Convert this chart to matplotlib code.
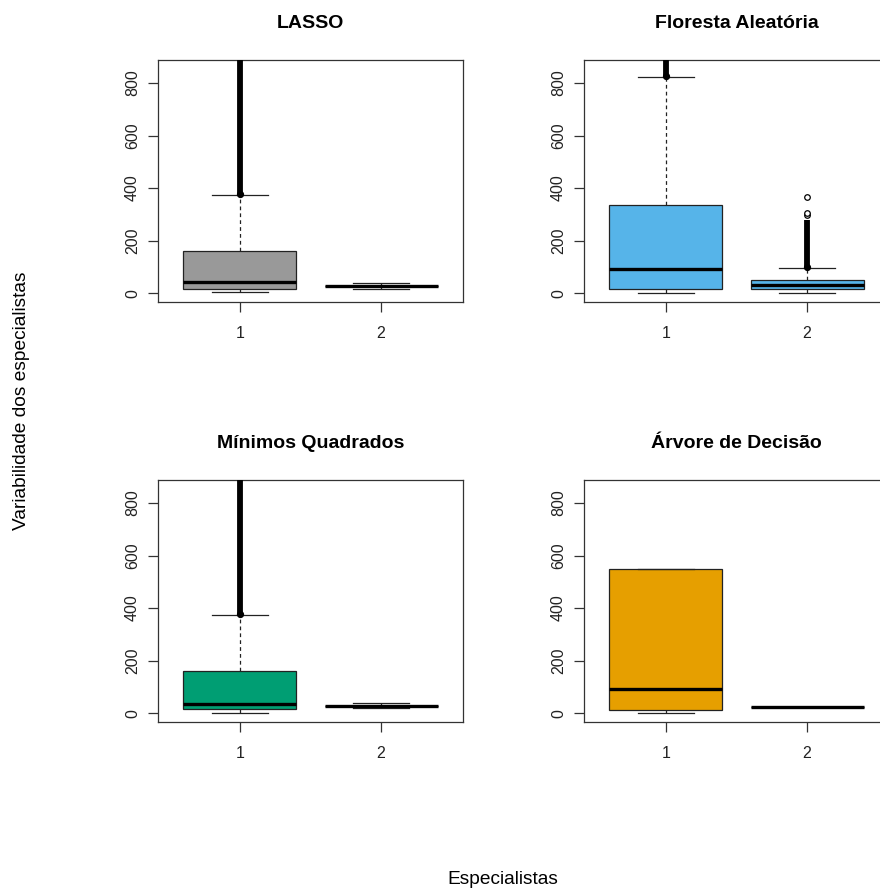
import matplotlib
matplotlib.use("Agg")
import matplotlib.pyplot as plt

plt.rcParams['font.family'] = ['Liberation Sans', 'DejaVu Sans']

# ---- data ----
titles = ["LASSO", "Floresta Aleatória", "Mínimos Quadrados", "Árvore de Decisão"]
colors = ["#999999", "#56B4E9", "#009E73", "#E69F00"]
groups = ["1", "2"]

# per panel: [box1, box2] -> whislo, q1, med, q3, whishi
lasso_stats = [[3, 14, 43, 160, 375], [17, 26, 27, 28, 38]]
floresta_stats = [[0, 14, 92, 337, 823], [0, 16, 30, 48, 95]]
mq_stats = [[2, 14, 36, 160, 373], [18, 26, 27, 28, 37]]
arvore_stats = [[0, 10, 92, 550, 550], [24, 24, 24, 24, 24]]

# dense outlier bands (lo, hi) per box; None = none
lasso_bands = [(378, 900), None]
floresta_bands = [(826, 900), (100, 277)]
mq_bands = [(376, 900), None]
arvore_bands = [None, None]

# separate outlier points
lasso_out = [[], []]
floresta_out = [[], [296, 305, 365]]
mq_out = [[], []]
arvore_out = [[], []]

yticks = [0, 200, 400, 600, 800]

all_stats = [lasso_stats, floresta_stats, mq_stats, arvore_stats]
all_bands = [lasso_bands, floresta_bands, mq_bands, arvore_bands]
all_out = [lasso_out, floresta_out, mq_out, arvore_out]

W, H = 880, 890
fig = plt.figure(figsize=(W / 100, H / 100), dpi=100)

positions_px = [(158, 60), (584, 60), (158, 480), (584, 480)]
aw, ah = 305, 242

edge = "#222222"
for i in range(4):
    x0, y0 = positions_px[i]
    ax = fig.add_axes([x0 / W, (H - y0 - ah) / H, aw / W, ah / H])
    stats = []
    for j, s in enumerate(all_stats[i]):
        stats.append(dict(whislo=s[0], q1=s[1], med=s[2], q3=s[3], whishi=s[4],
                          fliers=all_out[i][j], label=groups[j]))
    bp = ax.bxp(stats, positions=[1, 2], widths=0.8, patch_artist=True,
                boxprops=dict(facecolor=colors[i], edgecolor=edge, linewidth=0.9),
                medianprops=dict(color="black", linewidth=2.4, solid_capstyle="butt"),
                whiskerprops=dict(color=edge, linewidth=0.9, linestyle=(0, (3, 2.5))),
                capprops=dict(color=edge, linewidth=0.9),
                capwidths=0.4,
                flierprops=dict(marker="o", markerfacecolor="white", markeredgecolor="black",
                                markersize=4, markeredgewidth=0.9),
                zorder=2)
    for j, b in enumerate(all_bands[i]):
        if b is not None:
            ax.vlines(j + 1, b[0], b[1], color="black", linewidth=4.2, zorder=3)
            ax.plot([j + 1], [b[0]], marker="o", color="black", markersize=4.2, zorder=3)
    ax.set_xlim(0.42, 2.58)
    ax.set_ylim(-34, 888)
    ax.set_xticks([1, 2])
    ax.set_xticklabels(groups)
    ax.set_yticks(yticks)
    ax.set_yticklabels([str(t) for t in yticks], rotation=90, va="center")
    ax.tick_params(axis="both", direction="out", length=7, width=0.9, color="#333333",
                   labelsize=11.5, labelcolor="#222222")
    ax.tick_params(axis="y", pad=6)
    ax.tick_params(axis="x", pad=10)
    for sp in ax.spines.values():
        sp.set_color("#333333")
        sp.set_linewidth(0.9)
    ax.set_title(titles[i], fontsize=14, fontweight="bold", pad=23)

fig.text(22 / W, 1 - 401 / H, "Variabilidade dos especialistas", rotation=90,
         ha="center", va="center", fontsize=13.8)
fig.text(503 / W, 1 - 879 / H, "Especialistas", ha="center", va="center", fontsize=13.8)

fig.savefig("out.png", dpi=100)
